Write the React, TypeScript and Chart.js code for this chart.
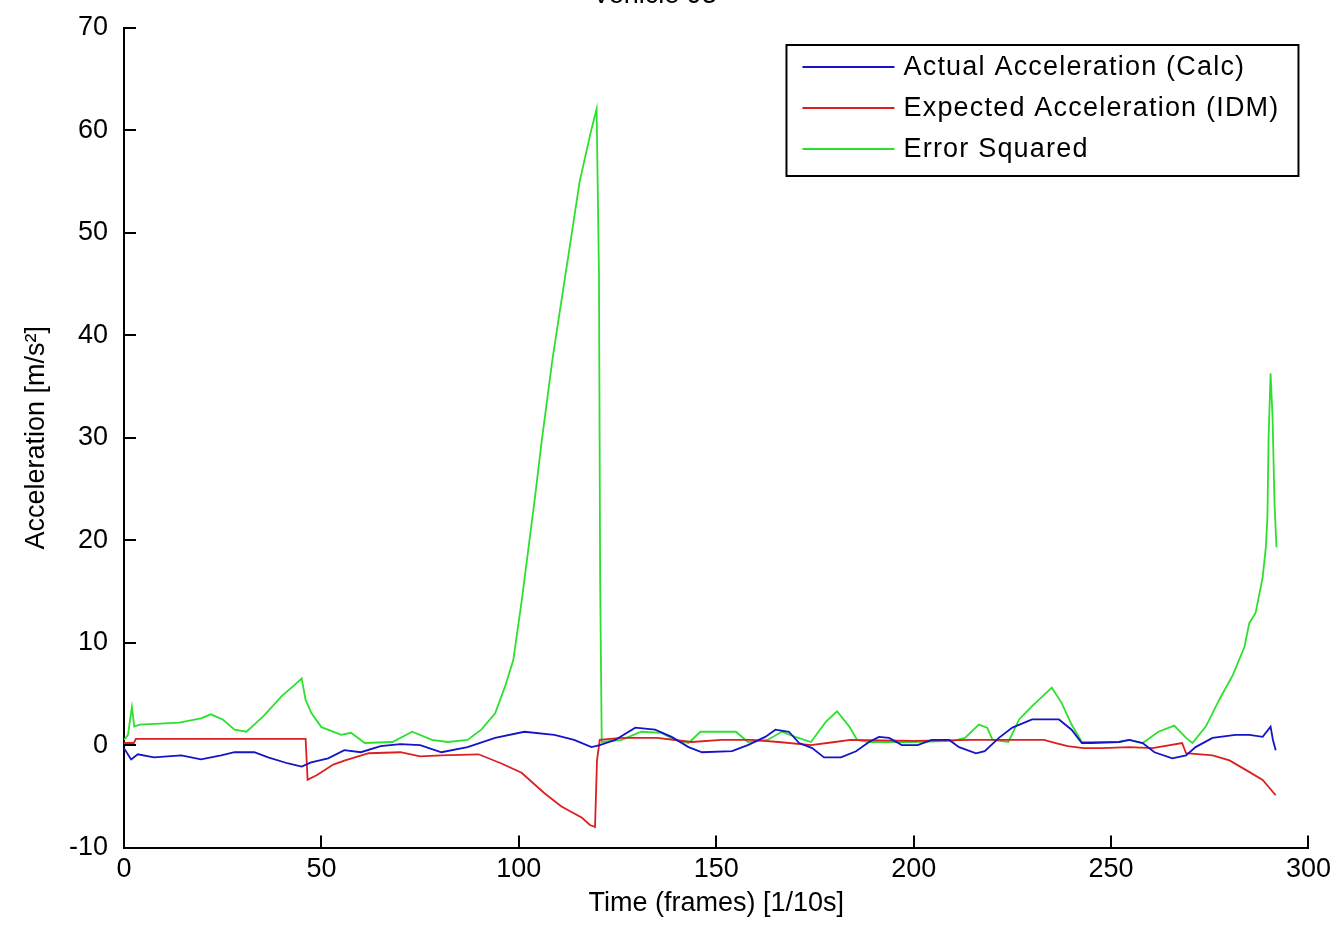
import React, { useEffect, useRef } from 'react';
import { Chart, registerables } from 'chart.js';

Chart.register(...registerables);

const titleText = 'Vehicle 93';
const xAxisLabel = 'Time (frames) [1/10s]';
const yAxisLabel = 'Acceleration [m/s\u00B2]';
const xTicks = [0, 50, 100, 150, 200, 250, 300];
const yTicks = [-10, 0, 10, 20, 30, 40, 50, 60, 70];
const seriesLabels = ['Actual Acceleration (Calc)', 'Expected Acceleration (IDM)', 'Error Squared'];
const seriesColors = ['#1414c8', '#dc2020', '#2ee02e'];

const actualFrames = [0, 1.8, 3.5, 7.6, 14.5, 19.5, 24.6, 28, 33, 36.5, 41.6, 45, 47.4, 51.7, 55.8, 60, 65, 70, 75, 80.4, 87, 94, 101.4, 109, 114, 118.4, 120.5, 124.4, 129.5, 134.5, 138.7, 143, 146.4, 154, 158, 162.4, 165, 168.4, 171, 174.3, 177.3, 181.6, 185.4, 188.7, 191.2, 193.8, 197, 201, 204.6, 209, 211.5, 215.8, 218, 221.6, 225, 230, 236.8, 240, 242.6, 245, 252, 254.6, 258, 261, 265.5, 269, 271.4, 275.7, 281.5, 285, 288.4, 290.4, 291, 291.7];
const actualValues = [-0.3, -1.4, -0.9, -1.2, -1.0, -1.4, -1.0, -0.7, -0.7, -1.2, -1.8, -2.1, -1.7, -1.3, -0.5, -0.7, -0.1, 0.1, 0.0, -0.7, -0.2, 0.7, 1.3, 1.0, 0.5, -0.2, 0.0, 0.5, 1.7, 1.5, 0.8, -0.2, -0.7, -0.6, 0.0, 0.8, 1.5, 1.3, 0.2, -0.3, -1.2, -1.2, -0.6, 0.3, 0.8, 0.7, 0.0, 0.0, 0.5, 0.5, -0.2, -0.8, -0.6, 0.7, 1.7, 2.5, 2.5, 1.5, 0.2, 0.2, 0.3, 0.5, 0.2, -0.7, -1.3, -1.0, -0.2, 0.7, 1.0, 1.0, 0.8, 1.8, 0.5, -0.5];

const expectedFrames = [0, 2.5, 3, 46, 46.5, 49, 53, 56, 62, 70, 75, 80.4, 89.8, 95.6, 100.7, 106.5, 110.8, 116, 118, 119.3, 119.8, 120.5, 126, 135, 143.8, 151.4, 159, 165.8, 174, 180, 184, 200, 215, 233, 236, 239, 243, 247.8, 254.6, 260.5, 268, 269, 275.7, 280, 284, 288.4, 291.7];
const expectedValues = [0.2, 0.2, 0.6, 0.6, -3.4, -2.9, -1.9, -1.5, -0.8, -0.7, -1.1, -1.0, -0.9, -1.8, -2.7, -4.7, -6.0, -7.1, -7.8, -8.0, -1.5, 0.5, 0.7, 0.7, 0.3, 0.5, 0.5, 0.3, 0.0, 0.3, 0.5, 0.4, 0.5, 0.5, 0.2, -0.1, -0.3, -0.3, -0.2, -0.3, 0.2, -0.8, -1.0, -1.5, -2.4, -3.4, -4.9];

const errorFrames = [0, 1, 2, 2.6, 4, 9, 14, 19.5, 22, 25, 28, 31, 33, 35.5, 40, 43, 45, 46, 47.5, 50, 55, 57.5, 61, 68, 73, 78, 82, 87, 90.5, 94, 96.5, 98.6, 100.7, 104, 105.8, 108.5, 110.8, 112.6, 115.4, 118.2, 119.7, 120.3, 120.6, 121, 126, 131, 136, 139.5, 143, 146, 155, 158, 163, 166.6, 170, 174, 177.8, 180.6, 183.7, 185.7, 188.6, 200, 210, 213, 216.5, 218.6, 220, 224, 226.7, 230, 235, 237.5, 240, 242.6, 252, 254.6, 258, 262, 266, 269, 270.6, 274, 277.5, 280.8, 283.8, 285, 286.6, 288.4, 289.2, 289.6, 289.9, 290.4, 290.9, 291.4, 291.9];
const errorValues = [0.5, 1.0, 3.7, 1.8, 2.0, 2.1, 2.2, 2.6, 3.0, 2.5, 1.5, 1.3, 2.0, 2.9, 4.8, 5.8, 6.5, 4.4, 3.1, 1.75, 1.0, 1.2, 0.2, 0.3, 1.3, 0.5, 0.3, 0.5, 1.5, 3.1, 5.7, 8.3, 14, 23.9, 29.7, 37.6, 43.4, 47.9, 55, 59.8, 62.1, 46, 16, 0.3, 0.5, 1.3, 1.2, 0.5, 0.2, 1.3, 1.3, 0.3, 0.5, 1.3, 0.8, 0.3, 2.3, 3.3, 1.8, 0.5, 0.3, 0.3, 0.4, 0.7, 2.0, 1.7, 0.5, 0.3, 2.5, 3.8, 5.6, 4.1, 2.0, 0.3, 0.3, 0.5, 0.2, 1.3, 1.9, 0.7, 0.2, 1.8, 4.5, 6.8, 9.6, 11.9, 12.9, 16.4, 19.3, 22.2, 30, 36.3, 32, 23.6, 19.3];

const FONT = '"Liberation Sans", Arial, sans-serif';
const FONT_SIZE = 27;

const toPoints = (xs: number[], ys: number[]) => xs.map((x, i) => ({ x, y: ys[i] }));

const inwardTicks = {
  id: 'inwardTicks',
  afterDatasetsDraw(chart: any) {
    const { ctx, chartArea, scales } = chart;
    const len = 12;
    ctx.save();
    ctx.strokeStyle = '#000';
    ctx.lineWidth = 2;
    ctx.beginPath();
    xTicks.forEach((v) => {
      const px = Math.round(scales.x.getPixelForValue(v));
      ctx.moveTo(px, chartArea.bottom);
      ctx.lineTo(px, chartArea.bottom - len);
    });
    yTicks.forEach((v) => {
      const py = Math.round(scales.y.getPixelForValue(v));
      ctx.moveTo(chartArea.left, py);
      ctx.lineTo(chartArea.left + len, py);
    });
    ctx.stroke();
    ctx.restore();
  },
};

const boxLegend = {
  id: 'boxLegend',
  afterDraw(chart: any) {
    const { ctx, chartArea } = chart;
    const w = 512;
    const h = 131;
    const right = chartArea.right - 10;
    const left = right - w;
    const top = chartArea.top + 17;
    ctx.save();
    ctx.fillStyle = '#fff';
    ctx.fillRect(left, top, w, h);
    ctx.strokeStyle = '#000';
    ctx.lineWidth = 2;
    ctx.strokeRect(left, top, w, h);
    ctx.font = `${FONT_SIZE}px ${FONT}`;
    (ctx as any).letterSpacing = '1.2px';
    ctx.textBaseline = 'middle';
    ctx.textAlign = 'left';
    chart.data.datasets.forEach((ds: any, i: number) => {
      const y = top + 22 + i * 41;
      ctx.strokeStyle = ds.borderColor;
      ctx.lineWidth = 2;
      ctx.beginPath();
      ctx.moveTo(left + 16, y);
      ctx.lineTo(left + 108, y);
      ctx.stroke();
      ctx.fillStyle = '#000';
      ctx.fillText(ds.label, left + 117, y + 1);
    });
    ctx.restore();
  },
};

export default function App() {
  const ref = useRef<HTMLCanvasElement | null>(null);

  useEffect(() => {
    if (!ref.current) return;
    const series = [
      toPoints(actualFrames, actualValues),
      toPoints(expectedFrames, expectedValues),
      toPoints(errorFrames, errorValues),
    ];
    const chart = new Chart(ref.current, {
      type: 'line',
      data: {
        datasets: series.map((data, i) => ({
          label: seriesLabels[i],
          data,
          borderColor: seriesColors[i],
          backgroundColor: seriesColors[i],
          borderWidth: 1.8,
          pointRadius: 0,
          tension: 0,
          fill: false,
        })),
      },
      options: {
        animation: false,
        responsive: false,
        layout: { padding: { left: 0, right: 28, top: 0, bottom: 0 } },
        plugins: {
          legend: { display: false },
          tooltip: { enabled: false },
          title: {
            display: true,
            text: titleText,
            color: '#000',
            font: { family: FONT, size: FONT_SIZE, weight: 'normal' },
            padding: { top: 0, bottom: 16.6 },
          },
        },
        scales: {
          x: {
            type: 'linear',
            min: 0,
            max: 300,
            afterFit: (s: any) => { s.height = 88.5; },
            afterBuildTicks: (s: any) => { s.ticks = xTicks.map((v) => ({ value: v })); },
            grid: { display: false, drawTicks: false },
            border: { display: true, color: '#000', width: 2 },
            ticks: { color: '#000', font: { family: FONT, size: FONT_SIZE }, padding: 6, maxRotation: 0, autoSkip: false },
            title: { display: true, text: xAxisLabel, color: '#000', font: { family: FONT, size: FONT_SIZE }, padding: { top: 0, bottom: 16.2 } },
          },
          y: {
            type: 'linear',
            min: -10,
            max: 70,
            afterFit: (s: any) => { s.width = 124; },
            afterBuildTicks: (s: any) => { s.ticks = yTicks.map((v) => ({ value: v })); },
            grid: { display: false, drawTicks: false },
            border: { display: true, color: '#000', width: 2 },
            ticks: { color: '#000', font: { family: FONT, size: FONT_SIZE }, padding: 16, autoSkip: false },
            title: { display: true, text: yAxisLabel, color: '#000', font: { family: FONT, size: FONT_SIZE }, padding: { top: 20.4, bottom: 0 } },
          },
        },
      },
      plugins: [inwardTicks, boxLegend],
    });
    return () => chart.destroy();
  }, []);

  return (
    <div style={{ position: 'absolute', left: 0, top: -21, width: 1337, height: 957, background: '#fff' }}>
      <canvas ref={ref} width={1337} height={957} style={{ display: 'block' }} />
    </div>
  );
}
